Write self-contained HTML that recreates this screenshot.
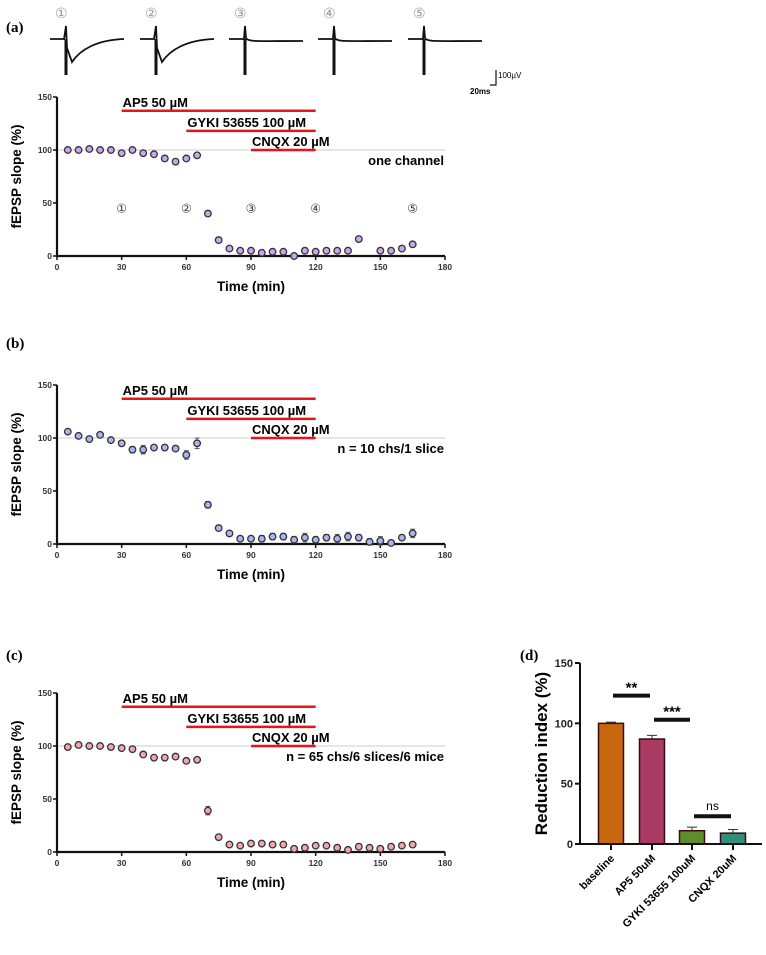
<!DOCTYPE html>
<html><head><meta charset="utf-8">
<style>
html,body{margin:0;padding:0;background:#fff;}
svg{display:block;font-family:"Liberation Sans",Arial,sans-serif;}
.pl{font-family:"Liberation Serif",serif;font-weight:bold;font-size:15px;}
.tk{font-size:8.5px;font-weight:bold;fill:#333;}
.at{font-size:13.5px;font-weight:bold;}
.dl{font-size:13px;font-weight:bold;}
</style></head>
<body>
<svg id="fig" width="766" height="955" viewBox="0 0 766 955"></svg>
<script>
const times=[5,10,15,20,25,30,35,40,45,50,55,60,65,70,75,80,85,90,95,100,105,110,115,120,125,130,135,140,145,150,155,160,165];
const seriesA=[100,100,101,100,100,97,100,97,96,92,89,92,95,40,15,7,5,5,3,4,4,0,5,4,5,5,5,16,null,5,5,7,11];
const seriesB=[106,102,99,103,98,95,89,89,91,91,90,84,95,37,15,10,5,5,5,7,7,4,6,4,6,5,7,6,2,3,1,6,10];
const errB=[1,1,1,1,1,1,3,4,2,2,2,4,5,3,1,2,2,2,3,3,3,3,4,3,3,4,4,3,3,4,1,2,4];
const seriesC=[99,101,100,100,99,98,97,92,89,89,90,86,87,39,14,7,6,8,8,7,7,3,4,6,6,4,2,5,4,3,5,6,7];
const errC=[1,1,1,1,1,1,1,1,1,1,1,1,1,4,2,1,1,1,1,1,1,1,1,1,1,1,1,1,1,1,1,1,1];
const xTicks=[0,30,60,90,120,150,180];
const yTicks=[0,50,100,150];
const drugs=["AP5 50 µM","GYKI 53655 100 µM","CNQX 20 µM"];
const drugStart=[30,60,90];
const drugEnd=[120,120,120];
const drugLevel=[137,118,100];
const barCats=["baseline","AP5 50uM","GYKI 53655 100uM","CNQX 20uM"];
const barVals=[100,87,11,9];
const barErr=[1,3,3,3];
const barColors=["#c8680e","#a93a63","#5f8c2e","#2f8f78"];

const NS="http://www.w3.org/2000/svg";
const svg=document.getElementById('fig');
function mk(tag,attrs,parent,text){const e=document.createElementNS(NS,tag);for(const k in attrs)e.setAttribute(k,attrs[k]);if(text!==undefined)e.textContent=text;(parent||svg).appendChild(e);return e;}

[["(a)",32],["(b)",348],["(c)",660]].forEach(([t,y])=>{
  const e=mk('text',{x:6,y:y,class:'pl'},svg,t);
  
  
});
const dl=mk('text',{x:520,y:660,class:'pl'},svg,'(d)');



const traceG=mk('g',{fill:'none',stroke:'#111','stroke-width':1.8});


const tStarts=[50,140,229,318,408];
const circ=["①","②","③","④","⑤"];
tStarts.forEach((x0,i)=>{
  const b=39,s=x0+16;
  let d;
  if(i<2){d=`M${x0} ${b} L${s-2} ${b} L${s} 26 L${s+1} 48 L${s+6} 62 C${s+14} 50 ${s+30} 40 ${x0+74} 39`;}
  else{d=`M${x0} ${b} L${s-1} ${b} L${s} 26 L${s+1} 38 C${s+4} 42 ${s+8} 41 ${x0+74} 41`;}
  const p=mk('path',{d:d},traceG);
  
  
  const sp=mk('line',{x1:s,y1:b,x2:s,y2:75,'stroke-width':3},traceG);
  
  
  const c=mk('text',{x:x0+5,y:18,'font-size':14,fill:'#999',stroke:'none'},svg,circ[i]);
  
  
});
const sb=mk('path',{d:'M490 85 L496 85 L496 70',fill:'none',stroke:'#111','stroke-width':1.2});


const sbt1=mk('text',{x:498,y:78,'font-size':8},svg,'100µV');


const sbt2=mk('text',{x:470,y:94,'font-size':8,'font-weight':'bold'},svg,'20ms');



function timePanel(id,yTop,yBot,vals,errs,fill,note,showCirc){
  const g=mk('g',{});
  
  
  const X=v=>57+v*(445-57)/180;
  const Y=v=>yBot-v*(yBot-yTop)/150;
  const rl=mk('line',{x1:X(0),x2:X(180),y1:Y(100),y2:Y(100),stroke:'#ccc','stroke-width':1},g);
  
  
  const ax=mk('path',{d:`M${X(0)} ${yTop} L${X(0)} ${yBot} L${X(180)} ${yBot}`,fill:'none',stroke:'#111','stroke-width':2.2},g);
  
  
  xTicks.forEach(t=>{
    const l=mk('line',{x1:X(t),x2:X(t),y1:yBot,y2:yBot+4,stroke:'#111','stroke-width':1.5},g);
    
    
    const tx=mk('text',{x:X(t),y:yBot+14,class:'tk','text-anchor':'middle'},g,t);
    
    
  });
  yTicks.forEach(t=>{
    const l=mk('line',{x1:X(0)-4,x2:X(0),y1:Y(t),y2:Y(t),stroke:'#111','stroke-width':1.5},g);
    
    
    const tx=mk('text',{x:X(0)-5,y:Y(t)+3,class:'tk','text-anchor':'end'},g,t);
    
    
  });
  const xt=mk('text',{x:X(90),y:yBot+35,class:'at','text-anchor':'middle'},g,'Time (min)');
  
  
  const yc=(yTop+yBot)/2;
  const yt=mk('text',{x:21,y:yc,class:'at','text-anchor':'middle',transform:`rotate(-90 21 ${yc})`},g,'fEPSP slope (%)');
  
  
  drugs.forEach((d,i)=>{
    const l=mk('line',{x1:X(drugStart[i]),x2:X(drugEnd[i]),y1:Y(drugLevel[i]),y2:Y(drugLevel[i]),stroke:'#e8141b','stroke-width':2.5},g);
    
    
    const tx=mk('text',{x:X(drugStart[i])+1,y:Y(drugLevel[i])-4,class:'dl'},g,d);
    
    
  });
  const nt=mk('text',{x:X(180)-1,y:Y(100)+15,class:'dl','text-anchor':'end'},g,note);
  
  
  if(showCirc){
    [30,60,90,120,165].forEach((t,i)=>{
      const c=mk('text',{x:X(t),y:Y(45)+4,'font-size':12,'text-anchor':'middle',fill:'#333'},g,circ[i]);
      
      
    });
  }
  times.forEach((t,i)=>{
    const v=vals[i]; if(v===null) return;
    if(errs){
      const e=mk('line',{x1:X(t),x2:X(t),y1:Y(v+errs[i]),y2:Y(v-errs[i]),stroke:'#555','stroke-width':1},g);
      
      
      [v+errs[i],v-errs[i]].forEach(w=>{
        const c=mk('line',{x1:X(t)-2.5,x2:X(t)+2.5,y1:Y(w),y2:Y(w),stroke:'#555','stroke-width':1},g);
        
        
      });
    }
    const p=mk('circle',{cx:X(t),cy:Y(v),r:3.3,fill:fill,stroke:'#333','stroke-width':1.3},g);
    
    
  });
}
timePanel('a',97,256,seriesA,null,'#c9a6ee','one channel',true);
timePanel('b',385,544,seriesB,errB,'#a9b4f2','n = 10 chs/1 slice',false);
timePanel('c',693,852,seriesC,errC,'#f2a6b0','n = 65 chs/6 slices/6 mice',false);

(function(){
  const g=mk('g',{});
  
  
  const x0=580,xE=762,yTop=663,yBot=844;
  const Y=v=>yBot-v*(yBot-yTop)/150;
  const cx=[611,652,692,733];
  const bw=25;
  barCats.forEach((c,i)=>{
    const r=mk('rect',{x:cx[i]-bw/2,y:Y(barVals[i]),width:bw,height:yBot-Y(barVals[i]),fill:barColors[i],stroke:'#3a0a10','stroke-width':1.5},g);
    
    
    const e=mk('path',{d:`M${cx[i]} ${Y(barVals[i])} L${cx[i]} ${Y(barVals[i]+barErr[i])} M${cx[i]-5} ${Y(barVals[i]+barErr[i])} L${cx[i]+5} ${Y(barVals[i]+barErr[i])}`,stroke:'#333','stroke-width':1,fill:'none'},g);
    
    
    const tk=mk('line',{x1:cx[i],x2:cx[i],y1:yBot,y2:yBot+6,stroke:'#111','stroke-width':2},g);
    
    
    const tx=mk('text',{x:cx[i]+4,y:yBot+15,'font-size':11,'font-weight':'bold','text-anchor':'end',transform:`rotate(-45 ${cx[i]+4} ${yBot+15})`},g,c);
    
    
  });
  const ax=mk('path',{d:`M${x0} ${yTop} L${x0} ${yBot} L${xE} ${yBot}`,fill:'none',stroke:'#111','stroke-width':2},g);
  
  
  yTicks.forEach(t=>{
    const l=mk('line',{x1:x0-5,x2:x0,y1:Y(t),y2:Y(t),stroke:'#111','stroke-width':2},g);
    
    
    const tx=mk('text',{x:x0-7,y:Y(t)+4,'font-size':11,'font-weight':'bold','text-anchor':'end',fill:'#222'},g,t);
    
    
  });
  const yc=(yTop+yBot)/2;
  const yt=mk('text',{x:547,y:yc,'font-size':17,'font-weight':'bold','text-anchor':'middle',transform:`rotate(-90 547 ${yc})`},g,'Reduction index (%)');
  
  
  const sig=[[0,1,123,'**'],[1,2,103,'***'],[2,3,23,'ns']];
  sig.forEach(([a,b,lv,s])=>{
    const l=mk('line',{x1:cx[a]+2,x2:cx[b]-2,y1:Y(lv),y2:Y(lv),stroke:'#111','stroke-width':4},g);
    
    
    const t=mk('text',{x:(cx[a]+cx[b])/2,y:Y(lv)-(s==='ns'?6:3),'font-size':s==='ns'?12:15,'font-weight':s==='ns'?'normal':'bold','text-anchor':'middle'},g,s);
    
    
  });
})();
</script>
</body></html>
